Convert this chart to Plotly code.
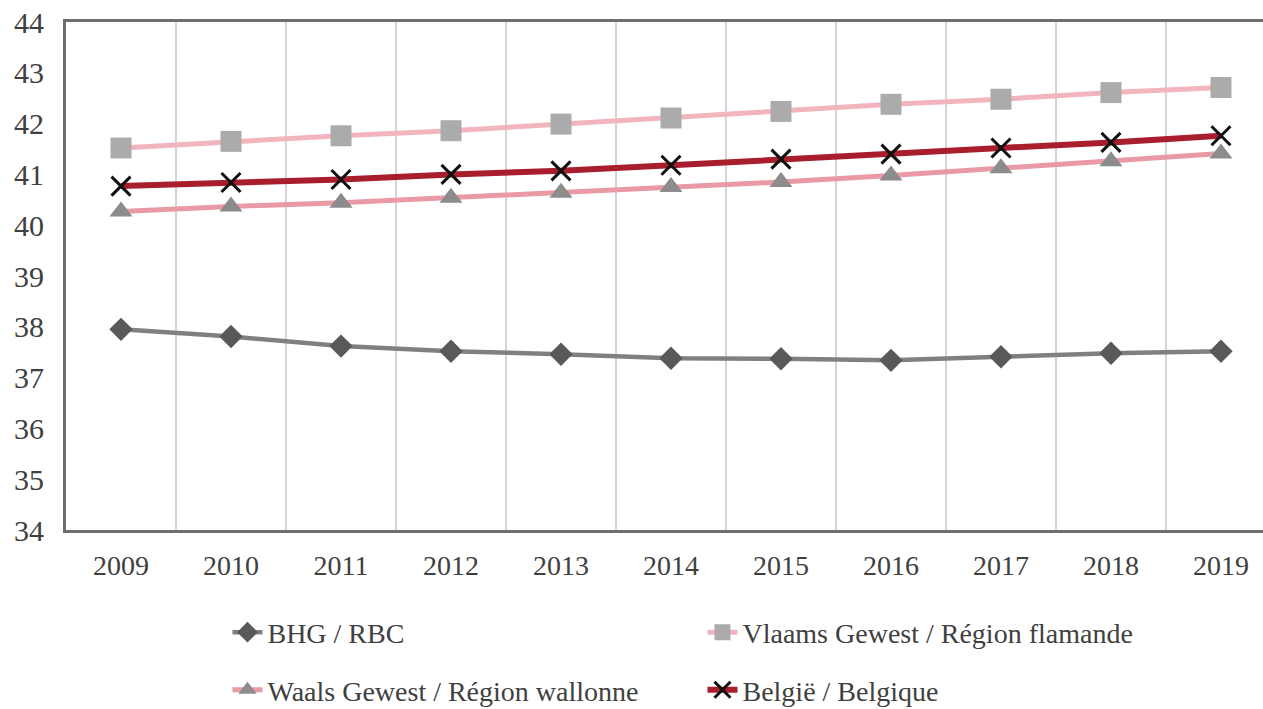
import plotly.graph_objects as go

years = ["2009", "2010", "2011", "2012", "2013", "2014", "2015", "2016", "2017", "2018", "2019"]
bhg = [37.95, 37.81, 37.62, 37.52, 37.46, 37.38, 37.37, 37.34, 37.41, 37.48, 37.52]
vlaams = [41.52, 41.65, 41.76, 41.86, 41.99, 42.11, 42.24, 42.38, 42.48, 42.61, 42.71]
waals = [40.27, 40.37, 40.44, 40.54, 40.64, 40.75, 40.85, 40.98, 41.12, 41.26, 41.41]
belgie = [40.77, 40.84, 40.90, 41.00, 41.07, 41.18, 41.30, 41.40, 41.52, 41.63, 41.76]

names = ["BHG / RBC", "Vlaams Gewest / Région flamande",
         "Waals Gewest / Région wallonne", "België / Belgique"]

FONT = "Liberation Serif, Times New Roman, DejaVu Serif, serif"
TXT = "#404040"

fig = go.Figure()
fig.add_trace(go.Scatter(
    x=years, y=bhg, name=names[0], mode="lines+markers",
    line=dict(color="#808080", width=4.5),
    marker=dict(symbol="diamond", size=18, color="#595959"),
    legend="legend"))
fig.add_trace(go.Scatter(
    x=years, y=vlaams, name=names[1], mode="lines+markers",
    line=dict(color="#f2b4bd", width=5),
    marker=dict(symbol="square", size=21, color="#ababab"),
    legend="legend"))
fig.add_trace(go.Scatter(
    x=years, y=waals, name=names[2], mode="lines+markers",
    line=dict(color="#e99aa4", width=5),
    marker=dict(symbol="triangle-up", size=20, color="#8c8c8c"),
    legend="legend2"))
fig.add_trace(go.Scatter(
    x=years, y=belgie, name=names[3], mode="lines+markers",
    line=dict(color="#a81e2c", width=6),
    marker=dict(symbol="x-thin", size=19, color="#111111",
                line=dict(color="#111111", width=3)),
    legend="legend2"))

legend_common = dict(
    orientation="h", xref="paper", yref="paper", xanchor="left", yanchor="top",
    font=dict(family=FONT, size=28, color=TXT), bgcolor="rgba(0,0,0,0)",
    entrywidth=430, traceorder="normal")

fig.update_layout(
    width=1263, height=709,
    margin=dict(l=66, r=0, t=22, b=179, autoexpand=False),
    paper_bgcolor="white", plot_bgcolor="white",
    font=dict(family=FONT, size=28, color=TXT),
    showlegend=True,
    legend=dict(x=0.1349, y=-0.1526, **legend_common),
    legend2=dict(x=0.1349, y=-0.2658, **legend_common),
    xaxis=dict(
        type="category", range=[-0.5, 10.382], automargin=False,
        showgrid=True, gridcolor="#d4d4d4", gridwidth=2, tickson="boundaries",
        showline=True, linecolor="#6e6e6e", linewidth=3, mirror=True,
        ticks="", ticklabelstandoff=8,
        tickfont=dict(family=FONT, size=28, color=TXT), zeroline=False),
    yaxis=dict(
        range=[34, 44], dtick=1, showgrid=False, automargin=False,
        showline=True, linecolor="#6e6e6e", linewidth=3,
        ticks="", ticklabelstandoff=13,
        tickfont=dict(family=FONT, size=30, color=TXT), zeroline=False),
)

fig.write_html(
    "out.html",
    config={"displayModeBar": False},
    post_script="document.body.style.margin='0';document.body.style.overflow='hidden';",
)
